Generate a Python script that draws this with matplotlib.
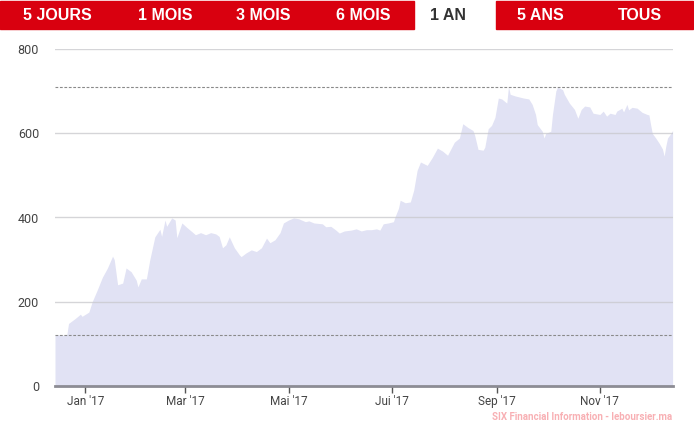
import numpy as np
import pandas as pd
import matplotlib
matplotlib.use("Agg")
import matplotlib.pyplot as plt
import matplotlib.dates as mdates

dates = [
    "2016-12-14", "2016-12-16", "2016-12-19", "2016-12-21", "2016-12-22", "2016-12-26",
    "2016-12-29", "2016-12-30", "2017-01-03", "2017-01-05", "2017-01-08", "2017-01-11",
    "2017-01-14", "2017-01-17", "2017-01-18", "2017-01-20", "2017-01-23", "2017-01-25",
    "2017-01-28", "2017-01-31", "2017-02-01", "2017-02-03", "2017-02-06", "2017-02-08",
    "2017-02-11", "2017-02-14", "2017-02-15", "2017-02-17", "2017-02-18", "2017-02-21",
    "2017-02-23", "2017-02-24", "2017-02-27", "2017-03-02", "2017-03-05", "2017-03-07",
    "2017-03-10", "2017-03-13", "2017-03-16", "2017-03-19", "2017-03-21", "2017-03-23",
    "2017-03-25", "2017-03-27", "2017-03-30", "2017-04-02", "2017-04-03", "2017-04-06",
    "2017-04-09", "2017-04-12", "2017-04-15", "2017-04-18", "2017-04-20", "2017-04-23",
    "2017-04-26", "2017-04-28", "2017-05-01", "2017-05-04", "2017-05-07", "2017-05-11",
    "2017-05-13", "2017-05-16", "2017-05-21", "2017-05-23", "2017-05-26", "2017-05-29",
    "2017-05-31", "2017-06-03", "2017-06-07", "2017-06-10", "2017-06-13", "2017-06-16",
    "2017-06-19", "2017-06-22", "2017-06-24", "2017-06-26", "2017-06-29", "2017-07-02",
    "2017-07-03", "2017-07-05", "2017-07-06", "2017-07-09", "2017-07-12", "2017-07-14",
    "2017-07-16", "2017-07-18", "2017-07-22", "2017-07-25", "2017-07-28", "2017-07-31",
    "2017-08-03", "2017-08-07", "2017-08-10", "2017-08-12", "2017-08-15", "2017-08-18",
    "2017-08-19", "2017-08-21", "2017-08-24", "2017-08-25", "2017-08-27", "2017-08-29",
    "2017-08-31", "2017-09-02", "2017-09-04", "2017-09-07", "2017-09-08", "2017-09-09",
    "2017-09-12", "2017-09-17", "2017-09-20", "2017-09-22", "2017-09-24", "2017-09-25",
    "2017-09-28", "2017-09-29", "2017-09-30", "2017-10-03", "2017-10-04", "2017-10-06",
    "2017-10-07", "2017-10-10", "2017-10-11", "2017-10-14", "2017-10-17", "2017-10-19",
    "2017-10-21", "2017-10-23", "2017-10-26", "2017-10-28", "2017-11-01", "2017-11-03",
    "2017-11-05", "2017-11-07", "2017-11-10", "2017-11-11", "2017-11-14", "2017-11-15",
    "2017-11-17", "2017-11-18", "2017-11-20", "2017-11-23", "2017-11-26", "2017-11-29",
    "2017-11-30", "2017-12-01", "2017-12-02", "2017-12-04", "2017-12-06", "2017-12-08",
    "2017-12-09", "2017-12-10", "2017-12-11", "2017-12-13", "2017-12-14",
]
prices = [
    121, 121, 120, 122, 148, 160,
    170, 165, 175, 200, 228, 258,
    280, 308, 300, 240, 244, 280,
    271, 251, 235, 254, 254, 299,
    354, 372, 355, 394, 379, 399,
    394, 352, 387, 376, 366, 359,
    364, 359, 364, 361, 355, 328,
    335, 354, 328, 311, 307, 316,
    323, 319, 328, 351, 340, 347,
    364, 387, 394, 399, 397, 390,
    392, 387, 385, 378, 379, 370,
    363, 368, 370, 373, 368, 371,
    371, 373, 370, 385, 387, 390,
    402, 422, 441, 435, 437, 465,
    512, 532, 524, 543, 565, 558,
    548, 579, 589, 623, 614, 607,
    596, 562, 560, 567, 611, 619,
    638, 684, 682, 672, 711, 693,
    689, 684, 682, 669, 645, 621,
    605, 589, 600, 605, 645, 701,
    710, 704, 693, 672, 657, 636,
    657, 665, 663, 648, 645, 653,
    641, 648, 645, 653, 660, 651,
    669, 656, 662, 660, 650, 645,
    644, 621, 600, 589, 577, 563,
    546, 570, 589, 600, 607,
]
yticks = [0, 200, 400, 600, 800]
month_ticks = ["2017-01-01", "2017-03-01", "2017-05-01", "2017-07-01", "2017-09-01", "2017-11-01"]
month_labels = ["Jan '17", "Mar '17", "Mai '17", "Jui '17", "Sep '17", "Nov '17"]
tabs = ["5 JOURS", "1 MOIS", "3 MOIS", "6 MOIS", "1 AN", "5 ANS", "TOUS"]
tab_centers = [57, 165, 263, 363, 448, 540, 640]

x = pd.to_datetime(dates)
hi, lo = max(prices), min(prices)

fig = plt.figure(figsize=(6.94, 4.36), dpi=100)
ax = fig.add_axes([55 / 694, 1 - 385.7 / 436, 617.6 / 694, 336.4 / 436])

ax.fill_between(x, prices, 0, color="#e1e2f4", lw=0, zorder=1)
for v in yticks[1:]:
    ax.axhline(v, color="#c8c8cc", lw=1, alpha=0.75, zorder=2)
ax.axhline(hi, color="#8a8a8a", lw=0.8, ls=(0, (2.5, 1.5)), zorder=3)
ax.axhline(lo, color="#8a8a8a", lw=0.8, ls=(0, (2.5, 1.5)), zorder=3)

ax.set_xlim(x[0], x[-1])
ax.set_ylim(0, 800)
for s in ["top", "right", "left"]:
    ax.spines[s].set_visible(False)
ax.spines["bottom"].set_color("#8c8c94")
ax.spines["bottom"].set_linewidth(2)
ax.spines["bottom"].set_zorder(4)

ax.set_yticks(yticks)
ax.tick_params(axis="y", length=0, pad=11.5, labelsize=9, labelcolor="#444444")
ax.set_xticks(pd.to_datetime(month_ticks))
ax.set_xticklabels(month_labels)
ax.tick_params(axis="x", length=5, width=1, color="#555555", pad=2, labelsize=8.5, labelcolor="#444444")
for lab in ax.get_xticklabels() + ax.get_yticklabels():
    lab.set_fontfamily("Roboto")

# tab bar
fig.patches.append(plt.Rectangle((0, 1 - 29 / 436), 414 / 694, 28 / 436, transform=fig.transFigure,
                                 color="#d9000f", zorder=0))
fig.patches.append(plt.Rectangle((496 / 694, 1 - 29 / 436), 197 / 694, 28 / 436, transform=fig.transFigure,
                                 color="#d9000f", zorder=0))
for t, cx in zip(tabs, tab_centers):
    fig.text(cx / 694, 1 - 15 / 436, t, ha="center", va="center", fontsize=11.5,
             fontweight="bold", family="Liberation Sans",
             color="#333333" if t == "1 AN" else "white")

fig.text(672 / 694, 1 - 417 / 436, "SIX Financial Information - leboursier.ma", ha="right", va="center",
         fontsize=7, fontweight="bold", color="#f8b0b4", family="Roboto")

fig.savefig("out.png", dpi=100)
